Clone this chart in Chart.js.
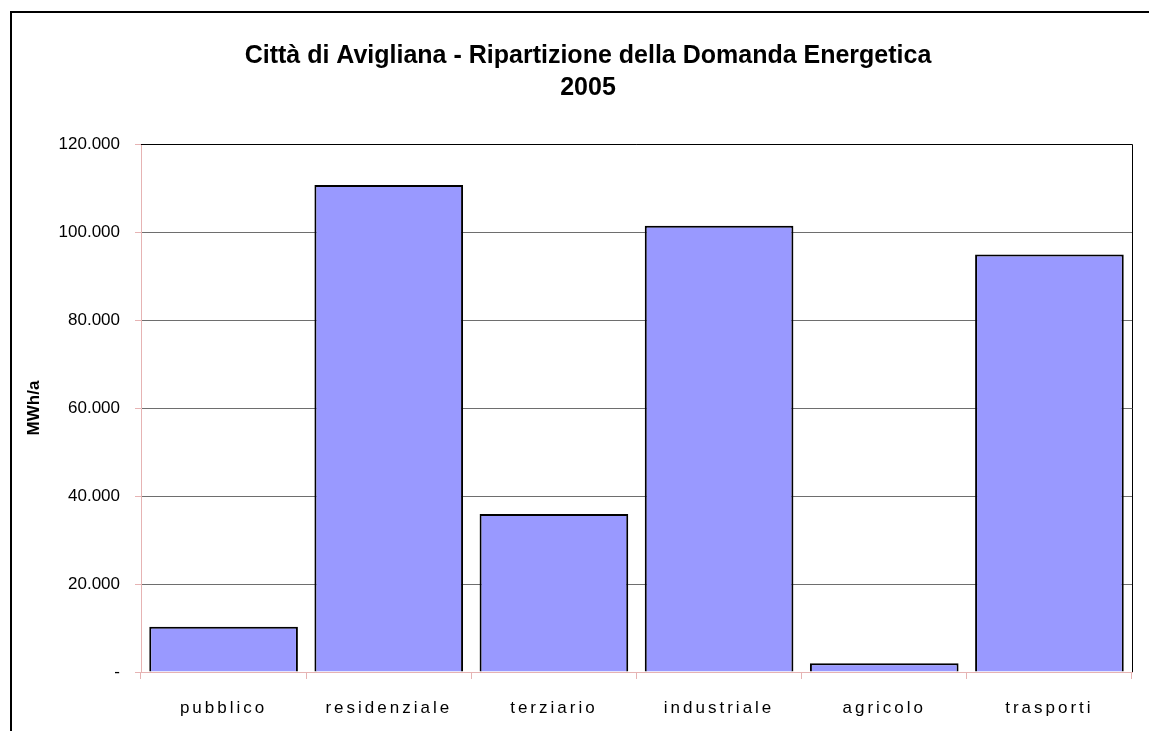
<!DOCTYPE html>
<html>
<head>
<meta charset="utf-8">
<script src="https://cdn.jsdelivr.net/npm/chart.js@4.4.0/dist/chart.umd.min.js"></script>
<style>
  html, body { margin: 0; padding: 0; background: #fff; overflow: hidden; }
  canvas { display: block; }
</style>
</head>
<body>
<canvas id="chart" width="1149" height="731"></canvas>
<script>
// data
const categories = ['pubblico', 'residenziale', 'terziario', 'industriale', 'agricolo', 'trasporti'];
const demandMWh = [10300, 110700, 35900, 101400, 2000, 94900];
const yTickLabels = ['-', '20.000', '40.000', '60.000', '80.000', '100.000', '120.000'];
const titleLines = ['Città di Avigliana - Ripartizione della Domanda Energetica', '2005'];

const PINK = '#e6b3b3';

// outer frame, title (centred on the frame, not the canvas) and plot edges
const framePlugin = {
  id: 'frame',
  beforeDraw(chart) {
    const ctx = chart.ctx;
    ctx.save();
    ctx.strokeStyle = '#000';
    ctx.lineWidth = 2;
    ctx.beginPath();
    ctx.moveTo(11, chart.height + 2);
    ctx.lineTo(11, 12);
    ctx.lineTo(chart.width + 2, 12);
    ctx.stroke();

    ctx.fillStyle = '#000';
    ctx.font = "bold 25px 'Liberation Sans', Arial, sans-serif";
    ctx.textAlign = 'center';
    ctx.textBaseline = 'middle';
    titleLines.forEach((t, i) => ctx.fillText(t, 588, 56 + i * 32));
    ctx.restore();
  },
  afterDraw(chart) {
    const a = chart.chartArea;
    const ctx = chart.ctx;
    ctx.save();
    ctx.strokeStyle = '#000';
    ctx.lineWidth = 1;
    ctx.beginPath();
    ctx.moveTo(a.left, a.top + 0.5);
    ctx.lineTo(a.right + 0.5, a.top + 0.5);
    ctx.lineTo(a.right + 0.5, a.bottom);
    ctx.stroke();
    ctx.restore();
  },
  afterUpdate(chart) {
    // spaced-out category labels like the original
    const x = chart.scales.x;
    if (x && !x._spaced) {
      const orig = x.drawLabels;
      x.drawLabels = function (area) {
        this.ctx.save();
        this.ctx.letterSpacing = '3px';
        orig.call(this, area);
        this.ctx.restore();
      };
      x._spaced = true;
    }
  }
};

new Chart(document.getElementById('chart'), {
  type: 'bar',
  data: {
    labels: categories,
    datasets: [{
      data: demandMWh,
      backgroundColor: '#9999ff',
      borderColor: '#000',
      borderWidth: 2,
      borderSkipped: 'bottom',
      barPercentage: 0.9,
      categoryPercentage: 1
    }]
  },
  options: {
    responsive: false,
    animation: false,
    layout: { padding: { left: 0, right: 17, top: 144, bottom: 0 } },
    plugins: {
      legend: { display: false },
      tooltip: { enabled: false },
      title: { display: false }
    },
    scales: {
      x: {
        afterFit(scale) { scale.height = 59; },
        border: { color: PINK, width: 1 },
        grid: { drawOnChartArea: false, tickColor: PINK, tickLength: 7, offset: true },
        ticks: {
          color: '#000',
          padding: 19,
          font: { family: "'Liberation Sans', Arial, sans-serif", size: 17 }
        }
      },
      y: {
        min: 0,
        max: 120000,
        afterFit(scale) { scale.width = 141; },
        border: { color: PINK, width: 1 },
        grid: { color: '#6e6e6e', tickColor: PINK, tickLength: 6 },
        ticks: {
          stepSize: 20000,
          color: '#000',
          padding: 15,
          font: { family: "'Liberation Sans', Arial, sans-serif", size: 17 },
          callback: (v, i) => yTickLabels[i]
        },
        title: {
          display: true,
          text: 'MWh/a',
          color: '#000',
          font: { family: "'Liberation Sans', Arial, sans-serif", size: 17, weight: 'bold' },
          padding: { top: 24, bottom: 0 }
        }
      }
    }
  },
  plugins: [framePlugin]
});
</script>
</body>
</html>
